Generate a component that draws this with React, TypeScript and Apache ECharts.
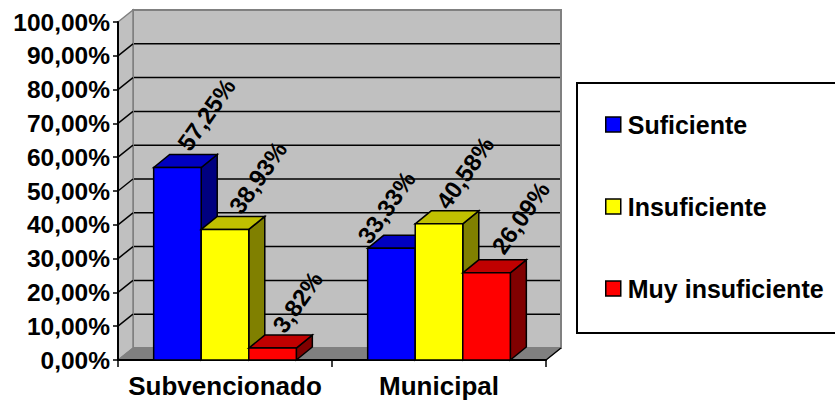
import React, { useEffect, useRef } from "react";
import * as echarts from "echarts";

const categories = ["Subvencionado", "Municipal"];
const seriesNames = ["Suficiente", "Insuficiente", "Muy insuficiente"];
const suficiente = [57.25, 33.33];
const insuficiente = [38.93, 40.58];
const muyInsuficiente = [3.82, 26.09];
const allValues = [suficiente, insuficiente, muyInsuficiente];
const gridTicks = [0, 10, 20, 30, 40, 50, 60, 70, 80, 90, 100];

const frontColors = ["#0000FF", "#FFFF00", "#FF0000"];
const topColors = ["#0000C0", "#C0C000", "#C00000"];
const sideColors = ["#000080", "#808000", "#800000"];
const labelShift = [
  [[29, -52], [-5, -40]],
  [[33, -51], [26, -50]],
  [[25, -45], [34, -54]],
];

const DX = 15, DY = 12, BDX = 16, BDY = 13;
const FONT = '"Liberation Sans", Arial, sans-serif';

function backdrop(params: any, api: any) {
  const cs = params.coordSys;
  const x0 = cs.x, x1 = cs.x + cs.width;
  const yOf = (v: number) => api.coord([0, v])[1];
  const yb = yOf(0), yt = yOf(100);
  const children: any[] = [
    { type: "rect", shape: { x: x0 + DX, y: yt - DY, width: cs.width, height: yb - yt }, style: { fill: "#C0C0C0", stroke: "#808080", lineWidth: 2 } },
    { type: "polygon", shape: { points: [[x0, yt], [x0 + DX, yt - DY], [x0 + DX, yb - DY], [x0, yb]] }, style: { fill: "#C0C0C0", stroke: "#808080", lineWidth: 1.5 } },
    { type: "polygon", shape: { points: [[x0, yb], [x0 + DX, yb - DY], [x1 + DX, yb - DY], [x1, yb]] }, style: { fill: "#808080", stroke: "#808080", lineWidth: 1 } },
    { type: "line", shape: { x1: x1, y1: yb, x2: x1 + DX, y2: yb - DY }, style: { stroke: "#000", lineWidth: 1.5 } },
  ];
  gridTicks.filter((v) => v > 0 && v < 100).forEach((v) => {
    const y = yOf(v);
    children.push({ type: "line", shape: { x1: x0, y1: y, x2: x0 + DX, y2: y - DY }, style: { stroke: "#000", lineWidth: 1.5 } });
    children.push({ type: "line", shape: { x1: x0 + DX + 1, y1: y - DY, x2: x1 + DX - 1, y2: y - DY }, style: { stroke: "#000", lineWidth: 1.5 } });
  });
  return { type: "group", children };
}

function barRenderer(si: number) {
  return (params: any, api: any) => {
    const idx = api.value(0), val = api.value(1);
    const [cx, yCoord] = api.coord([idx, val]);
    const yTop = yCoord + 1;
    const yBase = api.coord([idx, 0])[1];
    const band = api.size([1, 0])[0];
    const w = band / 4.5;
    const l = cx + (si - 1.5) * w;
    const r = l + w;
    const s = { stroke: "#000", lineWidth: 1.5, lineJoin: "miter" };
    return {
      type: "group",
      children: [
        { type: "polygon", shape: { points: [[r, yTop], [r + BDX, yTop - BDY], [r + BDX, yBase - BDY], [r, yBase]] }, style: { fill: sideColors[si], ...s } },
        { type: "polygon", shape: { points: [[l, yTop], [l + BDX, yTop - BDY], [r + BDX, yTop - BDY], [r, yTop]] }, style: { fill: topColors[si], ...s } },
        { type: "rect", shape: { x: l, y: yTop, width: w, height: yBase - yTop }, style: { fill: frontColors[si], ...s } },
      ],
    };
  };
}

function labelRenderer(si: number) {
  return (params: any, api: any) => {
    const idx = api.value(0), val = api.value(1);
    const [cx, yTop] = api.coord([idx, val]);
    const w = api.size([1, 0])[0] / 4.5;
    const barC = cx + (si - 1) * w;
    const [ox, oy] = labelShift[si][idx];
    return {
      type: "text",
      x: barC + ox,
      y: yTop + oy,
      rotation: (55 * Math.PI) / 180,
      style: {
        text: val.toFixed(2).replace(".", ",") + "%",
        font: `bold 24px ${FONT}`,
        fill: "#000",
        align: "center",
        verticalAlign: "middle",
      },
    };
  };
}

export default function App() {
  const ref = useRef<HTMLDivElement>(null);
  useEffect(() => {
    const chart = echarts.init(ref.current!, null, { renderer: "svg" });
    chart.setOption({
      animation: false,
      backgroundColor: "#fff",
      grid: { left: 118, top: 22, width: 428, height: 338, containLabel: false },
      xAxis: {
        type: "category",
        data: categories,
        z: 5,
        axisLine: { show: true, lineStyle: { color: "#000", width: 2 } },
        axisTick: { show: true, length: 7, interval: 0, alignWithLabel: false, lineStyle: { color: "#000", width: 1.5 } },
        axisLabel: { color: "#000", fontFamily: FONT, fontWeight: "bold", fontSize: 26, margin: 13, interval: 0, hideOverlap: false },
      },
      yAxis: {
        type: "value",
        min: 0,
        max: 100,
        interval: 10,
        z: 5,
        splitLine: { show: false },
        axisLine: { show: true, lineStyle: { color: "#000", width: 2 } },
        axisTick: { show: true, length: 5, lineStyle: { color: "#000", width: 1.5 } },
        axisLabel: { color: "#000", fontFamily: FONT, fontWeight: "bold", fontSize: 24.5, margin: 8, formatter: (v: number) => `${v},00%` },
      },
      legend: {
        orient: "vertical",
        left: 577,
        top: 83,
        padding: [29, 70, 32, 28],
        itemGap: 57,
        itemWidth: 15,
        itemHeight: 15,
        icon: "rect",
        borderColor: "#000",
        borderWidth: 2,
        data: seriesNames,
        selectedMode: false,
        itemStyle: { borderColor: "#000", borderWidth: 1.5 },
        textStyle: { color: "#000", fontFamily: FONT, fontWeight: "bold", fontSize: 25, padding: [0, 0, 0, 2] },
      },
      series: [
        { type: "custom", name: "backdrop", z: 1, silent: true, data: [[0, 0]], encode: { x: 0, y: 1 }, renderItem: backdrop },
        ...seriesNames.map((name, si) => ({
          type: "custom", name, z: 6, itemStyle: { color: frontColors[si] },
          data: allValues[si].map((v, i) => [i, v]), encode: { x: 0, y: 1 }, renderItem: barRenderer(si),
        })),
        ...seriesNames.map((name, si) => ({
          type: "custom", name: name + " etiqueta", z: 7, silent: true,
          data: allValues[si].map((v, i) => [i, v]), encode: { x: 0, y: 1 }, renderItem: labelRenderer(si),
        })),
      ],
    });
    return () => chart.dispose();
  }, []);
  return <div ref={ref} style={{ position: "fixed", left: 0, top: 0, width: 835, height: 400 }} />;
}
